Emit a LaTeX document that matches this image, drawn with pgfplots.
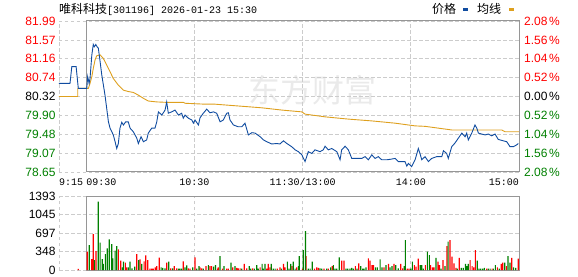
\documentclass[border=0pt]{standalone}
\usepackage{pgfplots}
\pgfplotsset{compat=1.18}
\usepackage{fontspec}
\setmainfont{Liberation Sans}
\newfontfamily\cjk{Noto Sans CJK SC}
\newfontfamily\mono{Liberation Mono}
\definecolor{pricec}{RGB}{16,76,160}
\definecolor{avgc}{RGB}{222,160,30}
\definecolor{upc}{RGB}{255,0,0}
\definecolor{dnc}{RGB}{0,128,0}
\definecolor{gridc}{RGB}{204,204,204}
\definecolor{framec}{RGB}{150,150,150}
\definecolor{wmc}{RGB}{234,234,234}

\pgfplotstableread{
x y
-15 80.61
-8.9 80.61
-7.9 80.98
-5.5 80.98
-4.3 80.50
0 80.50
0.4 80.50
0.9 80.76
1.7 80.61
2.2 80.72
3.2 81.24
4.0 81.47
4.6 81.42
5.4 81.47
6.1 81.42
6.8 81.39
7.8 81.09
8.7 80.80
10.5 80.35
12.4 79.76
13.3 79.62
15.1 79.47
16.1 79.32
17.0 79.17
17.9 79.28
18.8 79.62
19.8 79.75
20.7 79.69
22.0 79.76
23.4 79.76
24.4 79.62
26.2 79.54
28.1 79.40
29.0 79.28
30.5 79.43
31.8 79.32
33.6 79.36
34.5 79.51
36.4 79.62
38.2 79.62
39.2 79.76
40.1 79.98
42.0 79.91
43.8 80.02
44.7 80.20
45.6 79.95
47.5 79.98
49.3 80.02
51.2 79.91
53.0 79.95
53.9 79.84
54.9 79.91
56.7 79.84
58.6 79.80
59.5 79.73
60.4 79.80
62.3 79.69
63.2 79.85
65.0 79.95
66.9 80.04
68.7 79.96
70.6 79.98
72.4 79.95
74.3 79.76
76.1 79.80
78.0 79.95
78.9 79.96
79.8 79.80
81.7 79.69
84.4 79.65
86.3 79.65
88.1 79.73
90.0 79.47
91.9 79.52
93.7 79.51
96.5 79.43
98.3 79.36
100.2 79.32
102.9 79.27
105.7 79.28
107.5 79.27
109.4 79.34
111.3 79.28
114.0 79.21
115.9 79.14
117.7 79.10
119.6 79.03
121.4 78.88
123.2 79.10
125.1 79.06
126.9 79.14
129.7 79.10
131.5 79.14
132.5 79.22
134.3 79.14
136.2 79.17
139.0 79.10
140.8 78.92
141.7 79.14
143.6 79.22
145.4 79.14
147.3 78.95
150.1 78.95
152.8 78.95
154.7 78.99
156.5 78.92
158.4 79.03
160.2 78.95
162.0 78.99
163.9 78.92
166.7 78.92
168.5 78.93
171.3 78.95
173.1 78.88
176.8 78.88
177.8 78.78
178.7 78.84
180.5 78.77
182.4 78.92
184.2 79.17
185.1 79.06
186.1 78.92
187.9 78.99
189.8 78.88
191.6 78.95
194.4 78.99
197.2 78.99
198.1 79.12
199.9 79.06
200.8 78.95
202.7 79.21
204.5 79.29
206.4 79.40
208.3 79.51
210.1 79.43
211.0 79.51
211.9 79.36
213.8 79.51
215.6 79.69
216.6 79.62
217.5 79.51
219.3 79.49
221.2 79.47
223.0 79.49
224.9 79.45
226.7 79.49
228.5 79.37
231.3 79.34
233.2 79.32
235.0 79.21
236.9 79.21
238.7 79.25
239.6 79.28
}\pricetable

\pgfplotstableread{
x y
-15 80.32
-4.6 80.32
-4.6 80.50
0 80.50
1.3 80.50
2.2 80.61
3.2 80.76
4.0 80.94
5.0 81.13
5.9 81.22
7.8 81.24
9.6 81.16
12.4 80.94
15.1 80.72
17.9 80.57
20.7 80.46
23.4 80.43
26.2 80.41
29.0 80.35
31.8 80.28
34.5 80.22
39.2 80.20
44.7 80.19
53.9 80.19
54.9 80.17
66.0 80.15
71.5 80.15
84.4 80.11
97.4 80.07
108.5 80.02
119.6 79.98
121.4 79.93
132.5 79.87
145.4 79.82
158.4 79.78
171.3 79.73
182.4 79.67
187.9 79.66
195.3 79.62
202.7 79.58
230.4 79.58
232.3 79.54
240 79.54
}\avgtable

\pgfplotstableread{
x v
-4.3 19
0.7 345
3.2 207
4.0 677
5.5 357
17.9 389
19.2 175
21.8 138
22.6 50
28.1 301
29.9 201
32.2 163
33.1 276
34.2 188
35.5 25
36.4 25
37.3 25
38.4 50
39.2 75
40.6 232
44.7 138
47.0 30
48.9 75
50.3 30
53.9 163
56.7 30
57.6 25
60.4 238
63.2 50
64.1 30
66.5 75
68.7 75
69.6 75
72.8 25
73.3 50
75.6 25
78.0 25
78.9 25
81.3 50
83.5 38
84.4 30
85.4 30
87.7 113
89.1 30
92.4 30
96.5 50
100.2 25
101.0 113
102.0 50
106.0 25
107.5 50
109.4 113
110.3 50
114.2 75
116.8 50
120.0 25
122.0 263
126.6 25
127.9 50
128.8 38
131.9 25
134.3 25
136.5 75
141.7 175
143.0 175
149.3 75
151.2 125
156.5 219
157.4 175
158.5 94
159.3 94
165.2 50
167.6 113
170.7 113
174.4 113
175.6 30
178.1 25
179.0 25
182.0 94
182.9 63
184.2 213
188.1 94
190.9 94
192.0 50
192.9 50
195.1 157
195.9 94
197.9 188
200.1 451
201.8 564
202.9 251
204.0 125
205.1 38
206.9 226
212.9 188
214.0 75
214.9 50
215.8 376
222.1 25
225.1 25
228.0 50
230.2 113
231.0 138
233.0 75
236.0 226
239.6 213
}\upvol

\pgfplotstableread{
x v
1.8 470
4.6 188
6.8 1285
7.8 514
9.0 207
9.6 113
10.7 301
11.8 407
12.9 577
14.2 489
14.8 219
16.1 363
17.0 451
20.0 50
20.7 157
23.4 50
24.4 157
25.5 30
27.0 63
29.2 188
30.9 113
41.6 50
42.5 38
43.8 30
45.8 157
48.1 30
51.2 25
52.1 25
53.0 25
54.9 50
55.8 88
59.1 50
61.4 25
62.6 75
65.0 25
67.8 94
70.6 63
71.7 94
74.3 263
76.5 75
80.4 138
82.6 75
86.3 25
90.5 75
91.3 25
93.3 25
94.6 94
95.5 25
97.6 113
98.3 25
99.2 113
102.7 113
103.8 25
104.8 25
108.3 25
111.6 157
112.5 25
113.5 113
114.9 157
115.9 25
117.7 75
118.2 263
120.4 376
121.6 733
123.2 25
124.2 25
125.4 157
129.7 30
130.7 25
133.4 25
135.6 50
137.1 94
138.0 25
139.0 25
140.4 238
144.1 25
145.1 25
146.3 25
147.3 38
148.2 25
150.2 25
152.3 75
153.4 25
154.1 25
155.2 50
160.4 50
161.5 50
163.0 201
164.1 50
166.3 94
168.5 50
169.6 75
171.7 94
173.1 30
176.4 75
177.0 564
180.0 25
180.9 157
185.3 94
186.1 94
187.0 25
189.2 345
190.3 282
194.0 226
196.8 25
199.0 75
200.7 533
205.8 25
208.0 38
209.1 38
210.3 113
211.0 75
211.9 113
216.9 175
217.8 25
218.8 25
219.9 25
220.8 38
223.0 25
224.0 25
225.8 25
226.9 94
229.1 25
232.1 138
233.9 263
235.0 138
237.0 50
238.2 40
}\dnvol

\pgfplotsset{
  kchart/.style={
    scale only axis, width=460pt, anchor=south west,
    xmin=-15, xmax=240, clip=false,
    axis line style={draw=none}, tick style={draw=none},
    xtick={-15,60,120,180}, xticklabels={},
    xmajorgrids, ymajorgrids,
    major grid style={gridc, line width=0.8pt, dash pattern=on 3.5pt off 2.5pt},
    tick label style={font=\fontsize{12}{12}\selectfont},
  },
}
\tikzset{
  pct/.style={anchor=west, inner sep=0pt, xshift=5pt, font=\fontsize{12}{12}\selectfont},
  tl/.style={inner sep=0pt, yshift=-13pt, font=\mono\fontsize{10}{12}\selectfont},
}

\begin{document}
\begin{tikzpicture}
\path[use as bounding box] (0pt,0pt) rectangle (578pt,276pt);
\node[wmc, inner sep=0pt] at (312pt,186pt) {\cjk\fontsize{32}{32}\selectfont 东方财富};
\node[anchor=base west, inner sep=0pt] at (59pt,262pt) {\cjk\fontsize{12}{12}\selectfont 唯科科技\mono\fontsize{10}{12}\selectfont[301196] 2026-01-23 15:30};
\node[anchor=base west, inner sep=0pt] at (432pt,262pt) {\cjk\fontsize{12}{12}\selectfont 价格\hspace{7pt}\textcolor{pricec}{\rule[3pt]{5pt}{3pt}}\hspace{9pt}均线\hspace{8pt}\textcolor{avgc}{\rule[3pt]{5pt}{3pt}}};

\begin{axis}[kchart, at={(59pt,104pt)}, height=151pt,
  ymin=78.65, ymax=81.99,
  ytick={78.65,79.07,79.48,79.90,80.32,80.74,81.16,81.57,81.99},
  yticklabels={\textcolor{dnc}{78.65},\textcolor{dnc}{79.07},\textcolor{dnc}{79.48},\textcolor{dnc}{79.90},80.32,\textcolor{upc}{80.74},\textcolor{upc}{81.16},\textcolor{upc}{81.57},\textcolor{upc}{81.99}},
]
\draw[framec, line width=1pt] (axis cs:0,78.65) rectangle (axis cs:240,81.99);
\addplot[avgc, line width=0.9pt] table[x=x,y=y] {\avgtable};
\addplot[pricec, line width=0.9pt] table[x=x,y=y] {\pricetable};
\node[pct, text=upc] at (axis cs:240,81.99) {2.08\kern1.5pt\%};
\node[pct, text=upc] at (axis cs:240,81.57) {1.56\kern1.5pt\%};
\node[pct, text=upc] at (axis cs:240,81.16) {1.04\kern1.5pt\%};
\node[pct, text=upc] at (axis cs:240,80.74) {0.52\kern1.5pt\%};
\node[pct, text=black] at (axis cs:240,80.32) {0.00\kern1.5pt\%};
\node[pct, text=dnc] at (axis cs:240,79.90) {0.52\kern1.5pt\%};
\node[pct, text=dnc] at (axis cs:240,79.48) {1.04\kern1.5pt\%};
\node[pct, text=dnc] at (axis cs:240,79.07) {1.56\kern1.5pt\%};
\node[pct, text=dnc] at (axis cs:240,78.65) {2.08\kern1.5pt\%};
\node[tl, anchor=base west] at (axis cs:-15,78.65) {9:15};
\node[tl, anchor=base west] at (axis cs:0,78.65) {09:30};
\node[tl, anchor=base] at (axis cs:60,78.65) {10:30};
\node[tl, anchor=base] at (axis cs:120,78.65) {11:30/13:00};
\node[tl, anchor=base] at (axis cs:180,78.65) {14:00};
\node[tl, anchor=base east] at (axis cs:240,78.65) {15:00};
\end{axis}

\begin{axis}[kchart, at={(59pt,6pt)}, height=74pt,
  ymin=0, ymax=1393,
  ytick={0,348,697,1045,1393},
  yticklabels={0,348,697,1045,1393},
]
\draw[framec, line width=1pt] (axis cs:0,0) rectangle (axis cs:240,1393);
\addplot[ybar, bar width=1.2pt, bar shift=0pt, fill=upc, draw=none] table[x=x,y=v] {\upvol};
\addplot[ybar, bar width=1.2pt, bar shift=0pt, fill=dnc, draw=none] table[x=x,y=v] {\dnvol};
\end{axis}
\end{tikzpicture}
\end{document}
